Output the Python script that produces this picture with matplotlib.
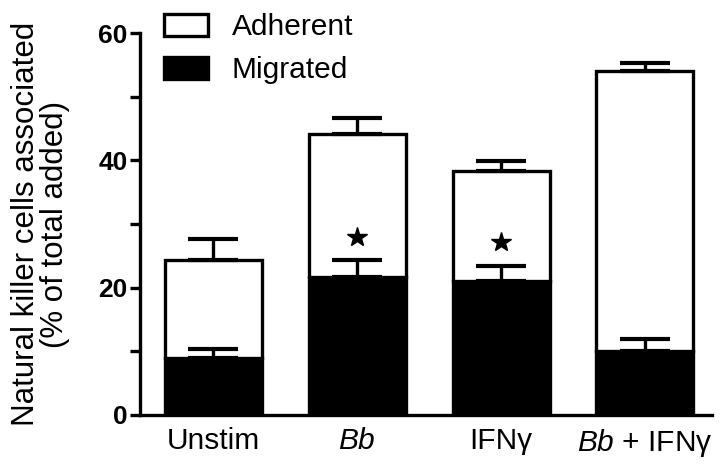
import matplotlib
matplotlib.use("Agg")
import matplotlib.pyplot as plt
from matplotlib.patches import Patch

plt.rcParams["font.family"] = ["Liberation Sans", "DejaVu Sans"]
plt.rcParams["mathtext.fontset"] = "custom"
plt.rcParams["mathtext.rm"] = "Liberation Sans"
plt.rcParams["mathtext.it"] = "Liberation Sans:italic"

# Werte
categories = ["Unstim", r"$\it{Bb}$", "IFNγ", r"$\it{Bb}$ + IFNγ"]
migrated = [9.0, 21.7, 21.0, 10.1]
migrated_err = [1.3, 2.6, 2.4, 1.9]
adherent = [15.4, 22.5, 17.4, 43.9]
total_err = [3.3, 2.4, 1.5, 1.3]
star_cats = [1, 2]
star_y = [28.0, 27.2]

x = list(range(len(categories)))
totals = [m + a for m, a in zip(migrated, adherent)]

fig = plt.figure(figsize=(7.23, 4.71), dpi=100)
ax = fig.add_axes([0.1936, 0.1189, 0.791, 0.811])

lw = 2.4
ax.bar(x, migrated, width=0.675, color="black", edgecolor="black", linewidth=lw, zorder=2)
ax.bar(x, adherent, width=0.675, bottom=migrated, color="white", edgecolor="black",
       linewidth=lw, zorder=2)

ax.errorbar(x, totals, yerr=[[0] * 4, total_err], fmt="none", ecolor="black",
            elinewidth=lw, capsize=18, capthick=3, zorder=3)
ax.errorbar(x, migrated, yerr=[[0] * 4, migrated_err], fmt="none", ecolor="black",
            elinewidth=lw, capsize=18, capthick=3, zorder=3)

ax.plot(star_cats, star_y, linestyle="none", marker="*", markersize=15, color="black", zorder=4)

ax.set_xlim(-0.511, 3.466)
ax.set_ylim(0, 60)
ax.set_yticks([0, 20, 40, 60])
ax.set_yticks([10, 30, 50], minor=True)
ax.tick_params(axis="y", which="both", direction="out", length=7, width=2.4, pad=2)
ax.set_yticklabels(["0", "20", "40", "60"], fontsize=19, fontweight="bold")
ax.set_xticks(x)
ax.set_xticklabels(categories, fontsize=21.5)
ax.tick_params(axis="x", length=0, pad=9)

for side in ["top", "right"]:
    ax.spines[side].set_visible(False)
for side in ["left", "bottom"]:
    ax.spines[side].set_linewidth(2.4)

ax.set_ylabel("Natural killer cells associated\n(% of total added)", fontsize=22.5,
              linespacing=0.95, labelpad=20)

handles = [Patch(facecolor="white", edgecolor="black", linewidth=2.4, label="Adherent"),
           Patch(facecolor="black", edgecolor="black", linewidth=2.4, label="Migrated")]
fig.legend(handles=handles, loc="upper left", bbox_to_anchor=(0.219, 0.985),
           frameon=False, fontsize=21.5, handlelength=1.45, handleheight=0.76,
           handletextpad=0.8, labelspacing=0.5, borderpad=0.2, borderaxespad=0)

fig.savefig("out.png", dpi=100)
